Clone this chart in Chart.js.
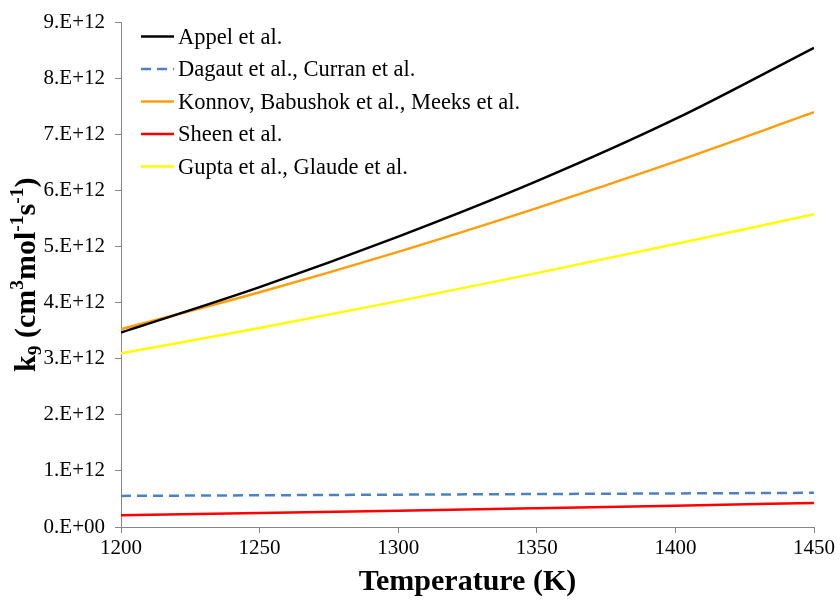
<!DOCTYPE html>
<html>
<head>
<meta charset="utf-8">
<script src="https://cdn.jsdelivr.net/npm/chart.js@4.4.1/dist/chart.umd.min.js"></script>
<style>
  html, body { margin: 0; padding: 0; background: #fff; }
  #wrap { width: 840px; height: 604px; }
</style>
</head>
<body>
<div id="wrap"><canvas id="c" width="840" height="604"></canvas></div>
<script>
// Temperature grid (K)
const temperatures = [1200, 1250, 1300, 1350, 1400, 1450];

// Rate constant k9 (units of 1e12 cm3 mol-1 s-1)
const appel   = [3.47, 4.28, 5.18, 6.17, 7.28, 8.55];
const dagaut  = [0.555, 0.566, 0.577, 0.588, 0.599, 0.61];
const konnov  = [3.53, 4.19, 4.91, 5.69, 6.52, 7.40];
const sheen   = [0.21, 0.248, 0.289, 0.334, 0.381, 0.43];
const gupta   = [3.10, 3.55, 4.03, 4.53, 5.05, 5.58];

const seriesLabels = [
  'Appel et al.',
  'Dagaut et al., Curran et al.',
  'Konnov, Babushok et al., Meeks et al.',
  'Sheen et al.',
  'Gupta et al., Glaude et al.'
];

// Axis ticks
const xTicks = [1200, 1250, 1300, 1350, 1400, 1450];
const yTickLabels = ['0.E+00','1.E+12','2.E+12','3.E+12','4.E+12','5.E+12','6.E+12','7.E+12','8.E+12','9.E+12'];

const SERIF = '"Liberation Serif", "Times New Roman", Times, serif';
const AXIS_GREY = '#868686';

function toPoints(vals) {
  return temperatures.map((t, i) => ({ x: t, y: vals[i] * 1e12 }));
}

function ds(label, vals, color, dash) {
  return {
    label: label,
    data: toPoints(vals),
    borderColor: color,
    backgroundColor: color,
    borderWidth: 2.5,
    borderDash: dash || [],
    pointRadius: 0,
    cubicInterpolationMode: 'monotone',
    fill: false
  };
}

// Legend drawn inside the plot area, top-left
const innerLegend = {
  id: 'innerLegend',
  afterDraw(chart) {
    const { ctx, chartArea } = chart;
    const x0 = chartArea.left + 20;
    const lineLen = 33;
    let y = chartArea.top + 14;
    ctx.save();
    ctx.font = '22.5px ' + SERIF;
    ctx.textBaseline = 'middle';
    ctx.fillStyle = '#000';
    chart.data.datasets.forEach(d => {
      ctx.beginPath();
      ctx.setLineDash(d.borderDash || []);
      ctx.strokeStyle = d.borderColor;
      ctx.lineWidth = d.borderWidth;
      ctx.moveTo(x0, y);
      ctx.lineTo(x0 + lineLen, y);
      ctx.stroke();
      ctx.setLineDash([]);
      ctx.fillText(d.label, x0 + lineLen + 4, y + 1);
      y += 32.5;
    });
    ctx.restore();
  }
};

// Rotated y-axis title with subscript / superscripts
const yTitleParts = [
  { t: 'k', k: 'main' }, { t: '9', k: 'sub' }, { t: ' (cm', k: 'main' },
  { t: '3', k: 'sup' }, { t: 'mol', k: 'main' }, { t: '-1', k: 'sup' },
  { t: 's', k: 'main' }, { t: '-1', k: 'sup' }, { t: ')', k: 'main' }
];
const yTitle = {
  id: 'yTitle',
  afterDraw(chart) {
    const { ctx, chartArea } = chart;
    const fonts = {
      main: 'bold 30px ' + SERIF,
      sub: 'bold 19.5px ' + SERIF,
      sup: 'bold 19.5px ' + SERIF
    };
    const shift = { main: 0, sub: 6, sup: -12 };
    ctx.save();
    let total = 0;
    yTitleParts.forEach(p => { ctx.font = fonts[p.k]; total += ctx.measureText(p.t).width; });
    const cx = chartArea.left - 86;
    const cy = (chartArea.top + chartArea.bottom) / 2;
    ctx.translate(cx, cy);
    ctx.rotate(-Math.PI / 2);
    ctx.fillStyle = '#000';
    ctx.textBaseline = 'alphabetic';
    let x = -total / 2;
    yTitleParts.forEach(p => {
      ctx.font = fonts[p.k];
      ctx.fillText(p.t, x, shift[p.k]);
      x += ctx.measureText(p.t).width;
    });
    ctx.restore();
  }
};

new Chart(document.getElementById('c'), {
  type: 'line',
  data: {
    datasets: [
      ds(seriesLabels[0], appel,  '#000000'),
      ds(seriesLabels[1], dagaut, '#4F81BD', [10, 6]),
      ds(seriesLabels[2], konnov, '#FF9E0D'),
      ds(seriesLabels[3], sheen,  '#FF0000'),
      ds(seriesLabels[4], gupta,  '#FFFF00')
    ]
  },
  options: {
    responsive: false,
    animation: false,
    layout: { padding: { top: 21, right: 26, left: 0, bottom: 0 } },
    plugins: {
      legend: { display: false },
      tooltip: { enabled: false }
    },
    scales: {
      x: {
        type: 'linear',
        min: 1200,
        max: 1450,
        afterBuildTicks(scale) { scale.ticks = xTicks.map(v => ({ value: v })); },
        afterFit(scale) { scale.height = 77; },
        grid: { drawOnChartArea: false, tickLength: 6, color: AXIS_GREY, lineWidth: 1 },
        border: { display: true, color: AXIS_GREY, width: 1 },
        ticks: {
          color: '#000',
          padding: 3,
          maxRotation: 0,
          font: { family: SERIF, size: 21 },
          callback: v => String(v)
        },
        title: {
          display: true,
          text: 'Temperature (K)',
          color: '#000',
          font: { family: SERIF, size: 30, weight: 'bold' },
          padding: { top: 0, bottom: 4 }
        }
      },
      y: {
        min: 0,
        max: 9e12,
        afterBuildTicks(scale) { scale.ticks = yTickLabels.map((_, i) => ({ value: i * 1e12 })); },
        afterFit(scale) { scale.width = 121; },
        grid: { drawOnChartArea: false, tickLength: 6, color: AXIS_GREY, lineWidth: 1 },
        border: { display: true, color: AXIS_GREY, width: 1 },
        ticks: {
          color: '#000',
          padding: 10,
          font: { family: SERIF, size: 21 },
          callback: (v) => yTickLabels[Math.round(v / 1e12)]
        }
      }
    }
  },
  plugins: [innerLegend, yTitle]
});
</script>
</body>
</html>
